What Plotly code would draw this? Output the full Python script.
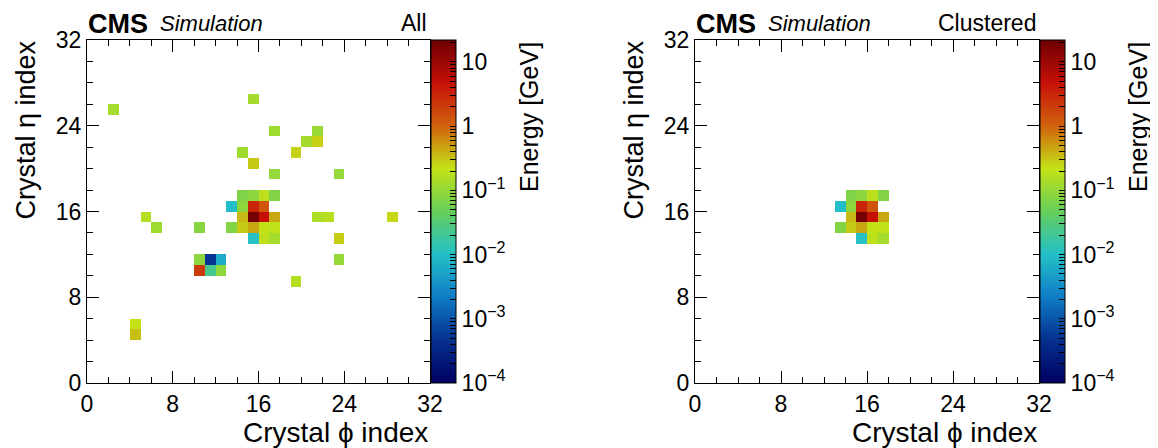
import math
import plotly.graph_objects as go

# page offset of the plot div inside the browser window (body margin)
OFF = 8
W, H = 1158 - OFF, 448 - OFF

# ---- data: all crystals (phi index, eta index, energy in GeV) ----
all_phi = [2, 15, 17, 21, 20, 21, 14, 19, 15, 17, 23,
           14, 15, 16, 17,
           13, 14, 15, 16,
           5, 14, 15, 16, 17, 21, 22, 28,
           6, 10, 13, 14, 15, 16, 17,
           15, 16, 17, 23,
           10, 11, 12, 23,
           10, 11, 12,
           19, 4, 4]
all_eta = [25, 26, 23, 23, 22, 22, 21, 21, 20, 19, 19,
           17, 17, 17, 17,
           16, 16, 16, 16,
           15, 15, 15, 15, 15, 15, 15, 15,
           14, 14, 14, 14, 14, 14, 14,
           13, 13, 13, 13,
           11, 11, 11, 11,
           10, 10, 10,
           9, 5, 4]
all_energy = [0.13, 0.13, 0.12, 0.11, 0.13, 0.27, 0.12, 0.26, 0.29, 0.10, 0.10,
              0.07, 0.09, 0.19, 0.075,
              0.0096, 0.09, 3.1, 1.3,
              0.17, 0.36, 19.6, 4.9, 0.44, 0.15, 0.18, 0.25,
              0.12, 0.08, 0.075, 0.29, 0.44, 0.22, 0.20,
              0.011, 0.19, 0.13, 0.28,
              0.09, 0.00052, 0.0063, 0.10,
              2.1, 0.023, 0.09,
              0.17, 0.22, 0.33]

# ---- data: clustered crystals ----
cl_phi = [14, 15, 16, 17,
          13, 14, 15, 16,
          14, 15, 16, 17,
          13, 14, 15, 16, 17,
          15, 16, 17]
cl_eta = [17, 17, 17, 17,
          16, 16, 16, 16,
          15, 15, 15, 15,
          14, 14, 14, 14, 14,
          13, 13, 13]
cl_energy = [0.07, 0.09, 0.19, 0.075,
             0.0096, 0.09, 3.1, 1.3,
             0.36, 19.6, 4.9, 0.44,
             0.075, 0.29, 0.44, 0.22, 0.20,
             0.011, 0.19, 0.13]

panel_labels = ["All", "Clustered"]
axis_ticks = [0, 8, 16, 24, 32]
z_min, z_max = 1e-4, 22.0
cb_major = [1e-4, 1e-3, 1e-2, 1e-1, 1, 10]
cb_major_text = ["10<sup>−4</sup>", "10<sup>−3</sup>", "10<sup>−2</sup>",
                 "10<sup>−1</sup>", "1", "10"]

# ROOT kRainBow palette
rainbow = [[0.0, "rgb(0,0,99)"], [0.125, "rgb(5,48,142)"], [0.25, "rgb(15,124,198)"],
           [0.375, "rgb(35,192,201)"], [0.5, "rgb(102,206,90)"], [0.625, "rgb(196,226,22)"],
           [0.75, "rgb(208,97,13)"], [0.875, "rgb(199,16,8)"], [1.0, "rgb(110,0,2)"]]

FONT = "Liberation Sans, Arial, sans-serif"
N = 32


def grid(phi, eta, en):
    z = [[None] * N for _ in range(N)]
    for p, e, v in zip(phi, eta, en):
        z[e][p] = math.log10(v)
    return z


centers = [i + 0.5 for i in range(N)]

# colorbar ticks (major + minor, in log10 space)
cb_vals, cb_text = [], []
for m, t in zip(cb_major, cb_major_text):
    cb_vals.append(math.log10(m))
    cb_text.append(t)
    for k in range(2, 10):
        v = m * k
        if v <= z_max:
            cb_vals.append(math.log10(v))
            cb_text.append("")

# pixel layout (window pixels)
plot_top, plot_bot = 40, 383
panels_x = [(87, 430), (695, 1039)]
cb_left = [431, 1040]


def px(x):
    return (x - OFF) / W


def py(y):
    return 1 - (y - OFF) / H


fig = go.Figure()
datasets = [(all_phi, all_eta, all_energy), (cl_phi, cl_eta, cl_energy)]
for i, (ph, et, en) in enumerate(datasets):
    sfx = "" if i == 0 else "2"
    fig.add_trace(go.Heatmap(
        x=centers, y=centers, z=grid(ph, et, en),
        coloraxis="coloraxis" + sfx,
        xaxis="x" + sfx, yaxis="y" + sfx,
        hoverongaps=False,
    ))

layout = dict(
    width=W, height=H,
    margin=dict(l=0, r=0, t=0, b=0, autoexpand=False),
    paper_bgcolor="white", plot_bgcolor="white",
    font=dict(family=FONT, color="black", size=23),
    showlegend=False,
)

axis_common = dict(
    range=[0, 32], tickvals=axis_ticks, ticktext=[str(t) for t in axis_ticks],
    ticks="inside", ticklen=12, tickwidth=1, tickcolor="black",
    minor=dict(ticks="inside", ticklen=6, dtick=2, tick0=0, tickcolor="black", tickwidth=1, showgrid=False),
    showline=True, linecolor="black", linewidth=1, mirror="allticks",
    showgrid=False, zeroline=False,
    tickfont=dict(family=FONT, size=23, color="black"),
)

annotations = []
for i in range(2):
    sfx = "" if i == 0 else "2"
    x0, x1 = panels_x[i]
    layout["xaxis" + sfx] = dict(axis_common, domain=[px(x0), px(x1)], anchor="y" + sfx)
    layout["yaxis" + sfx] = dict(axis_common, domain=[py(plot_bot), py(plot_top)], anchor="x" + sfx)
    layout["coloraxis" + sfx] = dict(
        cmin=math.log10(z_min), cmax=math.log10(z_max), colorscale=rainbow,
        colorbar=dict(
            x=px(cb_left[i]), xanchor="left", xpad=0, ypad=0,
            y=py((plot_top + plot_bot) / 2), yanchor="middle",
            len=(plot_bot - plot_top) / H, lenmode="fraction",
            thickness=25, thicknessmode="pixels",
            outlinewidth=1, outlinecolor="black",
            tickmode="array", tickvals=cb_vals, ticktext=cb_text,
            ticks="inside", ticklen=6, tickcolor="black", tickwidth=1,
            tickfont=dict(family=FONT, size=23, color="black"),
        ),
    )
    # CMS label
    annotations.append(dict(text="<b>CMS</b>", x=px(x0), y=py(OFF), xref="paper", yref="paper",
                            xanchor="left", yanchor="top", showarrow=False, borderpad=0,
                            font=dict(family=FONT, size=27, color="black")))
    annotations.append(dict(text="<i>Simulation</i>", x=px(x0 + 72), y=py(OFF + 2), xref="paper", yref="paper",
                            xanchor="left", yanchor="top", showarrow=False, borderpad=0,
                            font=dict(family=FONT, size=22, color="black")))
    annotations.append(dict(text=panel_labels[i], x=px(x1 - 2), y=py(OFF + 1), xref="paper", yref="paper",
                            xanchor="right", yanchor="top", showarrow=False, borderpad=0,
                            font=dict(family=FONT, size=23, color="black")))
    # axis titles
    annotations.append(dict(text="Crystal η index", x=px(x0 - 62), y=py(plot_top), xref="paper", yref="paper",
                            xanchor="center", yanchor="top", textangle=-90, showarrow=False, borderpad=0,
                            font=dict(family=FONT, size=27, color="black")))
    annotations.append(dict(text="Crystal ϕ index", x=px(x1), y=py(432), xref="paper", yref="paper",
                            xanchor="right", yanchor="middle", showarrow=False,
                            font=dict(family=FONT, size=28, color="black")))
    annotations.append(dict(text="Energy [GeV]", x=px(cb_left[i] + 98), y=py(plot_top), xref="paper", yref="paper",
                            xanchor="center", yanchor="top", textangle=-90, showarrow=False,
                            font=dict(family=FONT, size=25, color="black")))

layout["annotations"] = annotations
fig.update_layout(**layout)
fig.write_html("out.html")
